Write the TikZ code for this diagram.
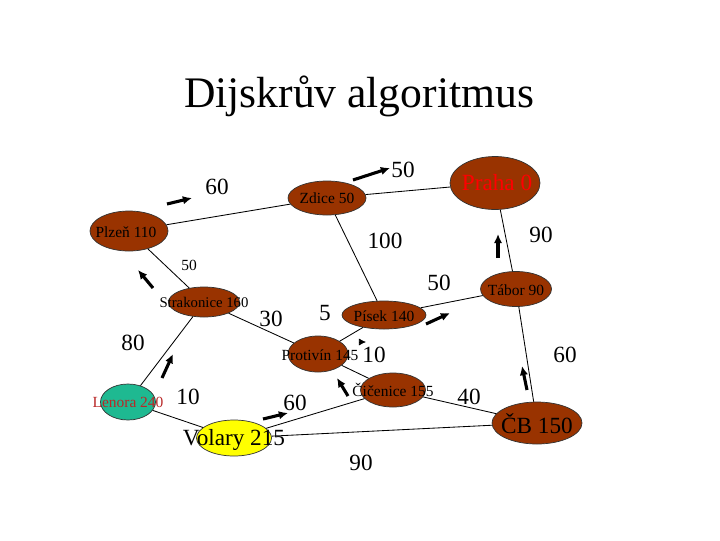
\documentclass[tikz,border=0pt]{standalone}
\usepackage{fontspec}
\setmainfont{Liberation Serif}
\usepackage{xcolor}
\usepackage{tikz}
\usetikzlibrary{arrows.meta, shapes.geometric}

\definecolor{cityfill}{RGB}{153,51,0}
\definecolor{lenorafill}{RGB}{30,185,145}
\definecolor{volaryfill}{RGB}{255,255,0}
\definecolor{lenoratext}{RGB}{185,40,40}

\newcommand{\pxu}{0.025cm}

\tikzset{
	city/.style={ellipse, draw=black!80, fill=cityfill, inner sep=0pt, line width=0.5pt},
	cityname/.style={font=\fontsize{11}{13}\selectfont, inner sep=0pt},
	bigname/.style={font=\fontsize{16.5}{19}\selectfont, inner sep=0pt},
	weight/.style={font=\fontsize{16.5}{19}\selectfont, inner sep=0pt},
	road/.style={line width=0.6pt},
	move/.style={line width=2.2pt, -{Latex[length=6.5pt, width=6pt]}}
}

\begin{document}
\begin{tikzpicture}[x=\pxu, y=-\pxu]
				\useasboundingbox (0,0) rectangle (720,540);
				% Title:
				\node[font=\fontsize{31}{36}\selectfont, anchor=base, inner sep=0pt] (title) at (359,107){Dijskrův algoritmus};
				
				% Cities:
				\node[city, minimum width=90*\pxu, minimum height=53*\pxu] (praha) at (495,183){};
				\node[city, minimum width=78*\pxu, minimum height=34*\pxu] (zdice) at (327,198){};
				\node[city, minimum width=78*\pxu, minimum height=40*\pxu] (plzen) at (129,231){};
				\node[city, minimum width=71*\pxu, minimum height=35*\pxu] (tabor) at (516,289){};
				\node[city, minimum width=71*\pxu, minimum height=30*\pxu] (strakonice) at (204,302){};
				\node[city, minimum width=84*\pxu, minimum height=28*\pxu] (pisek) at (384,315){};
				\node[city, minimum width=60*\pxu, minimum height=36*\pxu] (protivin) at (318,354){};
				\node[city, minimum width=65*\pxu, minimum height=34*\pxu] (cicenice) at (393,390){};
				\node[city, minimum width=90*\pxu, minimum height=42*\pxu] (cb) at (537,423){};
				\node[city, fill=lenorafill, minimum width=55*\pxu, minimum height=36*\pxu] (lenora) at (128,402){};
				\node[city, fill=volaryfill, minimum width=75*\pxu, minimum height=36*\pxu] (volary) at (234,438){};
				
				% Roads:
				\draw[road] (plzen) -- (zdice);
				\draw[road] (zdice) -- (praha);
				\draw[road] (praha) -- (tabor);
				\draw[road] (plzen) -- (strakonice);
				\draw[road] (zdice) -- (pisek);
				\draw[road] (pisek) -- (tabor);
				\draw[road] (tabor) -- (cb);
				\draw[road] (strakonice) -- (protivin);
				\draw[road] (protivin) -- (pisek);
				\draw[road] (protivin) -- (cicenice);
				\draw[road] (strakonice) -- (lenora);
				\draw[road] (lenora) -- (volary);
				\draw[road] (volary) -- (cicenice);
				\draw[road] (volary) -- (cb);
				\draw[road] (cicenice) -- (cb);
				
				% City names:
				\node[bigname, text=red] (prahaname) at (497,183){Praha 0};
				\node[cityname] (zdicename) at (327,198){Zdice 50};
				\node[cityname] (plzenname) at (126,232){Plzeň 110};
				\node[cityname] (taborname) at (516,290){Tábor 90};
				\node[cityname, font=\fontsize{10.5}{12}\selectfont] (strakonicename) at (204,302){Strakonice 160};
				\node[cityname] (pisekname) at (384,316){Písek 140};
				\node[cityname] (protivinname) at (320,355){Protivín 145};
				\node[cityname] (cicenicename) at (393,390){Čičenice 155};
				\node[bigname] (cbname) at (537,424){ČB 150};
				\node[cityname, text=lenoratext] (lenoraname) at (128,402){Lenora 240};
				\node[bigname] (volaryname) at (234,440){Volary 215};
				
				% Weights:
				\node[weight] (w1) at (217,187){60};
				\node[weight] (w2) at (403,170){50};
				\node[weight] (w3) at (385,241){100};
				\node[weight] (w4) at (541,235){90};
				\node[cityname] (w5) at (189,265){50};
				\node[weight] (w6) at (439,283){50};
				\node[weight] (w7) at (271,319){30};
				\node[weight] (w8) at (325,313){5};
				\node[weight] (w9) at (133,343){80};
				\node[weight] (w10) at (374,355){10};
				\node[weight] (w11) at (565,355){60};
				\node[weight] (w12) at (188,397){10};
				\node[weight] (w13) at (295,403){60};
				\node[weight] (w14) at (469,397){40};
				\node[weight] (w15) at (361,463){90};
				
				% Moves:
				\draw[move] (167,204) -- (192,198);
				\draw[move] (353,180) -- (390,168);
				\draw[move] (498,258) -- (498,234);
				\draw[move] (153,288) -- (138,270);
				\draw[move] (162,378) -- (173,354);
				\draw[move] (263,419) -- (288,413);
				\draw[move] (348,396) -- (337,378);
				\draw[move] (426,324) -- (450,313);
				\draw[move] (527,390) -- (522,366);
				\draw[line width=0.5pt, -{Latex[length=5pt, width=5pt]}] (362,342) -- (366,342);
			\end{tikzpicture}
\end{document}
